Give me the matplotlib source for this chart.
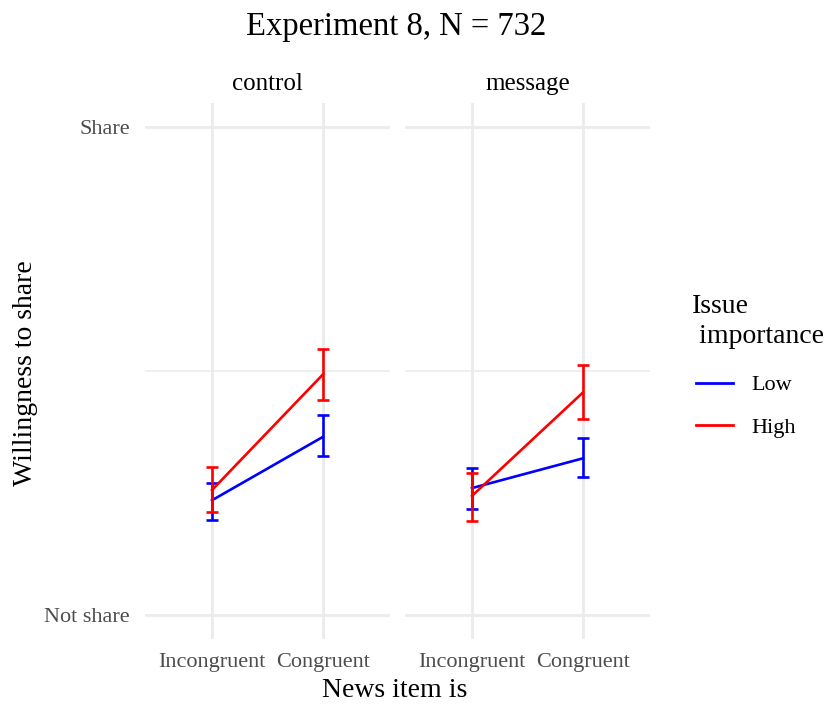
import numpy as np
import matplotlib.pyplot as plt
from matplotlib.lines import Line2D

plt.rcParams['font.family'] = ['Liberation Serif', 'DejaVu Serif']

panels = ['control', 'message']
conditions = ['Incongruent', 'Congruent']
groups = ['Low', 'High']
colors = {'Low': '#0000FF', 'High': '#FF0000'}

# mean share (0 = Not share, 1 = Share) and CI bounds, order: Incongruent, Congruent
means = {
    'control': {'Low': [0.235, 0.365], 'High': [0.256, 0.493]},
    'message': {'Low': [0.260, 0.321], 'High': [0.244, 0.456]},
}
lower = {
    'control': {'Low': [0.195, 0.326], 'High': [0.210, 0.440]},
    'message': {'Low': [0.217, 0.282], 'High': [0.193, 0.402]},
}
upper = {
    'control': {'Low': [0.271, 0.409], 'High': [0.303, 0.546]},
    'message': {'Low': [0.302, 0.362], 'High': [0.290, 0.513]},
}

fig = plt.figure(figsize=(8.26, 7.04), dpi=100)
grid_col = '#EBEBEB'
x = np.arange(1, len(conditions) + 1)
lefts = [0.176, 0.4908]
lw = 1.9

for i, p in enumerate(panels):
    ax = fig.add_axes([lefts[i], 0.0918, 0.2956, 0.7625])
    for s in ax.spines.values():
        s.set_visible(False)
    ax.set_xlim(0.4, 2.6)
    ax.set_ylim(-0.05, 1.05)
    for xv in x:
        ax.axvline(xv, color=grid_col, lw=2, zorder=0)
    for yv in [0, 1]:
        ax.axhline(yv, color=grid_col, lw=2, zorder=0)
    ax.axhline(0.5, color=grid_col, lw=1.1, zorder=0)
    for g in groups:
        m = means[p][g]
        lo = lower[p][g]
        hi = upper[p][g]
        ax.plot(x, m, color=colors[g], lw=lw, zorder=3)
        ax.vlines(x, lo, hi, color=colors[g], lw=lw, zorder=3)
        ax.hlines(lo, x - 0.05, x + 0.05, color=colors[g], lw=lw, zorder=3)
        ax.hlines(hi, x - 0.05, x + 0.05, color=colors[g], lw=lw, zorder=3)
    ax.set_xticks(x)
    ax.set_xticklabels(conditions, fontsize=16, color='#4D4D4D')
    ax.tick_params(length=0, pad=10)
    if i == 0:
        ax.set_yticks([0, 1])
        ax.set_yticklabels(['Not share', 'Share'], fontsize=16, color='#4D4D4D')
        ax.tick_params(axis='y', pad=11)
    else:
        ax.set_yticks([])
    ax.set_title(p, fontsize=18, pad=9)

fig.text(0.479, 0.962, 'Experiment 8, N = 732', fontsize=23.5, ha='center', va='center')
fig.text(0.478, 0.019, 'News item is', fontsize=20, ha='center', va='center')
fig.text(0.031, 0.47, 'Willingness to share', fontsize=20, ha='center', va='center', rotation=90)

fig.text(0.838, 0.543, 'Issue\n importance', fontsize=20, ha='left', va='center', linespacing=1.25)
handles = [Line2D([], [], color=colors[g], lw=2) for g in groups]
fig.legend(handles, groups, loc='upper left', bbox_to_anchor=(0.819, 0.496), frameon=False,
           fontsize=16, handlelength=1.65, handletextpad=0.8, labelspacing=1.0)

fig.savefig('out.png', dpi=100)
